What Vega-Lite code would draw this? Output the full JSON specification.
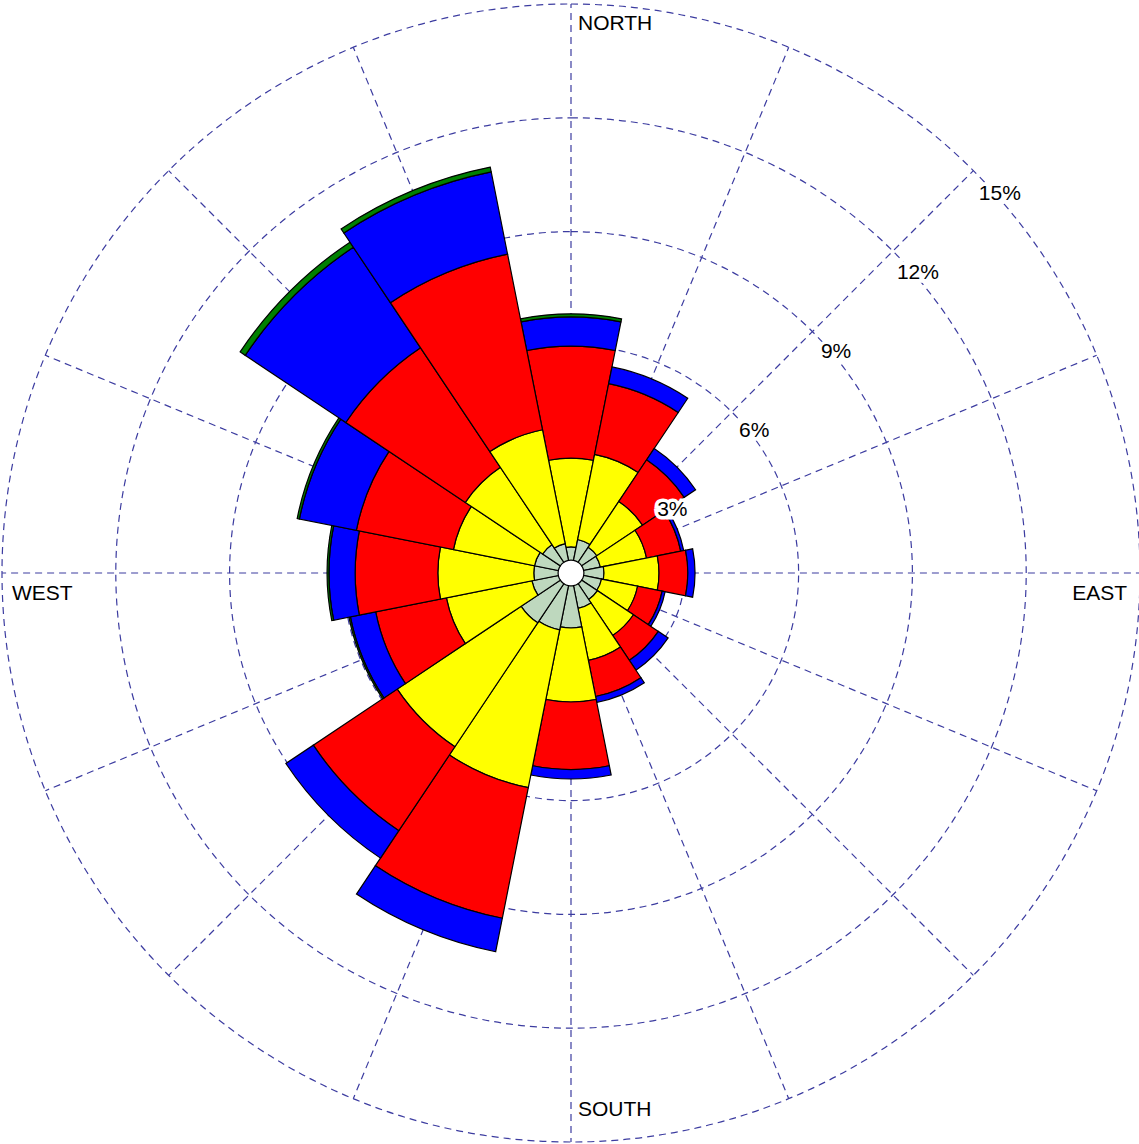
{
  "$schema": "https://vega.github.io/schema/vega-lite/v6.json",
  "width": 1136,
  "height": 1142,
  "padding": {"left": 3, "top": 2, "right": 0, "bottom": 0},
  "autosize": {"type": "none"},
  "background": "white",
  "config": {"view": {"stroke": null}},
  "layer": [
    {
      "data": {"values": [{"p": 3}, {"p": 6}, {"p": 9}, {"p": 12}, {"p": 15}]},
      "mark": {"type": "arc", "theta": 0, "theta2": 6.2832, "filled": false, "stroke": "#3c3ca0", "strokeWidth": 1.2, "strokeDash": [7, 5]},
      "encoding": {
        "radius": {"field": "p", "type": "quantitative", "stack": null, "scale": {"type": "linear", "domain": [0, 15], "range": [0, 569], "nice": false, "zero": true}}
      }
    },
    {
      "data": {"values": [{"a": 0}, {"a": 22.5}, {"a": 45}, {"a": 67.5}, {"a": 90}, {"a": 112.5}, {"a": 135}, {"a": 157.5}, {"a": 180}, {"a": 202.5}, {"a": 225}, {"a": 247.5}, {"a": 270}, {"a": 292.5}, {"a": 315}, {"a": 337.5}]},
      "transform": [
        {"calculate": "0.34*sin(datum.a*PI/180)", "as": "xs"},
        {"calculate": "0.34*cos(datum.a*PI/180)", "as": "ys"},
        {"calculate": "15*sin(datum.a*PI/180)", "as": "xe"},
        {"calculate": "15*cos(datum.a*PI/180)", "as": "ye"}
      ],
      "mark": {"type": "rule", "stroke": "#3c3ca0", "strokeWidth": 1.2, "strokeDash": [7, 5]},
      "encoding": {
        "x": {"field": "xs", "type": "quantitative", "scale": {"domain": [-14.974, 14.974], "nice": false, "zero": false}, "axis": null},
        "y": {"field": "ys", "type": "quantitative", "scale": {"domain": [-15.053, 15.053], "nice": false, "zero": false}, "axis": null},
        "x2": {"field": "xe"},
        "y2": {"field": "ye"}
      }
    },
    {
      "data": {"values": [
        {"dir": 0, "cls": "a", "lo": 0.34, "hi": 0.69}, {"dir": 0, "cls": "b", "lo": 0.69, "hi": 3.03}, {"dir": 0, "cls": "c", "lo": 3.03, "hi": 5.98}, {"dir": 0, "cls": "d", "lo": 5.98, "hi": 6.75}, {"dir": 0, "cls": "e", "lo": 6.75, "hi": 6.83},
        {"dir": 22.5, "cls": "a", "lo": 0.34, "hi": 0.90}, {"dir": 22.5, "cls": "b", "lo": 0.90, "hi": 3.19}, {"dir": 22.5, "cls": "c", "lo": 3.19, "hi": 5.09}, {"dir": 22.5, "cls": "d", "lo": 5.09, "hi": 5.54},
        {"dir": 45, "cls": "a", "lo": 0.34, "hi": 0.82}, {"dir": 45, "cls": "b", "lo": 0.82, "hi": 2.27}, {"dir": 45, "cls": "c", "lo": 2.27, "hi": 3.59}, {"dir": 45, "cls": "d", "lo": 3.59, "hi": 3.95},
        {"dir": 67.5, "cls": "a", "lo": 0.34, "hi": 0.79}, {"dir": 67.5, "cls": "b", "lo": 0.79, "hi": 2.03}, {"dir": 67.5, "cls": "c", "lo": 2.03, "hi": 2.95}, {"dir": 67.5, "cls": "d", "lo": 2.95, "hi": 3.03},
        {"dir": 90, "cls": "a", "lo": 0.34, "hi": 0.87}, {"dir": 90, "cls": "b", "lo": 0.87, "hi": 2.32}, {"dir": 90, "cls": "c", "lo": 2.32, "hi": 3.08}, {"dir": 90, "cls": "d", "lo": 3.08, "hi": 3.27},
        {"dir": 112.5, "cls": "a", "lo": 0.34, "hi": 0.82}, {"dir": 112.5, "cls": "b", "lo": 0.82, "hi": 1.79}, {"dir": 112.5, "cls": "c", "lo": 1.79, "hi": 2.45}, {"dir": 112.5, "cls": "d", "lo": 2.45, "hi": 2.53},
        {"dir": 135, "cls": "a", "lo": 0.34, "hi": 0.84}, {"dir": 135, "cls": "b", "lo": 0.84, "hi": 1.98}, {"dir": 135, "cls": "c", "lo": 1.98, "hi": 2.77}, {"dir": 135, "cls": "d", "lo": 2.77, "hi": 3.08},
        {"dir": 157.5, "cls": "a", "lo": 0.34, "hi": 0.95}, {"dir": 157.5, "cls": "b", "lo": 0.95, "hi": 2.35}, {"dir": 157.5, "cls": "c", "lo": 2.35, "hi": 3.32}, {"dir": 157.5, "cls": "d", "lo": 3.32, "hi": 3.48},
        {"dir": 180, "cls": "a", "lo": 0.34, "hi": 1.45}, {"dir": 180, "cls": "b", "lo": 1.45, "hi": 3.40}, {"dir": 180, "cls": "c", "lo": 3.40, "hi": 5.18}, {"dir": 180, "cls": "d", "lo": 5.18, "hi": 5.43},
        {"dir": 202.5, "cls": "a", "lo": 0.34, "hi": 1.53}, {"dir": 202.5, "cls": "b", "lo": 1.53, "hi": 5.77}, {"dir": 202.5, "cls": "c", "lo": 5.77, "hi": 9.28}, {"dir": 202.5, "cls": "d", "lo": 9.28, "hi": 10.18},
        {"dir": 225, "cls": "a", "lo": 0.34, "hi": 1.58}, {"dir": 225, "cls": "b", "lo": 1.58, "hi": 5.51}, {"dir": 225, "cls": "c", "lo": 5.51, "hi": 8.17}, {"dir": 225, "cls": "d", "lo": 8.17, "hi": 9.04},
        {"dir": 247.5, "cls": "a", "lo": 0.34, "hi": 1.05}, {"dir": 247.5, "cls": "b", "lo": 1.05, "hi": 3.35}, {"dir": 247.5, "cls": "c", "lo": 3.35, "hi": 5.25}, {"dir": 247.5, "cls": "d", "lo": 5.25, "hi": 5.93}, {"dir": 247.5, "cls": "e", "lo": 5.93, "hi": 5.97},
        {"dir": 270, "cls": "a", "lo": 0.34, "hi": 0.98}, {"dir": 270, "cls": "b", "lo": 0.98, "hi": 3.51}, {"dir": 270, "cls": "c", "lo": 3.51, "hi": 5.69}, {"dir": 270, "cls": "d", "lo": 5.69, "hi": 6.38}, {"dir": 270, "cls": "e", "lo": 6.38, "hi": 6.43},
        {"dir": 292.5, "cls": "a", "lo": 0.34, "hi": 0.98}, {"dir": 292.5, "cls": "b", "lo": 0.98, "hi": 3.16}, {"dir": 292.5, "cls": "c", "lo": 3.16, "hi": 5.77}, {"dir": 292.5, "cls": "d", "lo": 5.77, "hi": 7.30}, {"dir": 292.5, "cls": "e", "lo": 7.30, "hi": 7.36},
        {"dir": 315, "cls": "a", "lo": 0.34, "hi": 0.90}, {"dir": 315, "cls": "b", "lo": 0.90, "hi": 3.35}, {"dir": 315, "cls": "c", "lo": 3.35, "hi": 7.14}, {"dir": 315, "cls": "d", "lo": 7.14, "hi": 10.33}, {"dir": 315, "cls": "e", "lo": 10.33, "hi": 10.49},
        {"dir": 337.5, "cls": "a", "lo": 0.34, "hi": 0.79}, {"dir": 337.5, "cls": "b", "lo": 0.79, "hi": 3.85}, {"dir": 337.5, "cls": "c", "lo": 3.85, "hi": 8.57}, {"dir": 337.5, "cls": "d", "lo": 8.57, "hi": 10.78}, {"dir": 337.5, "cls": "e", "lo": 10.78, "hi": 10.91}
      ]},
      "transform": [
        {"calculate": "datum.dir - 11.25", "as": "a0"},
        {"calculate": "datum.dir + 11.25", "as": "a1"}
      ],
      "mark": {"type": "arc", "stroke": "black", "strokeWidth": 1.2},
      "encoding": {
        "theta": {"field": "a0", "type": "quantitative", "stack": null, "scale": {"type": "linear", "domain": [0, 360], "range": [0, 6.283185307179586], "nice": false, "zero": false}},
        "theta2": {"field": "a1"},
        "radius": {"field": "hi", "type": "quantitative", "stack": null, "scale": {"type": "linear", "domain": [0, 15], "range": [0, 569], "nice": false, "zero": true}},
        "radius2": {"field": "lo"},
        "color": {"field": "cls", "type": "nominal", "legend": null, "scale": {"domain": ["a", "b", "c", "d", "e"], "range": ["#bed8be", "#ffff00", "#ff0000", "#0000ff", "#008000"]}}
      }
    },
    {
      "data": {"values": [{"label": "3%", "p": 3}, {"label": "6%", "p": 6}, {"label": "9%", "p": 9}, {"label": "12%", "p": 12}, {"label": "15%", "p": 15}]},
      "mark": {"type": "text", "theta": 0.8029, "font": "Liberation Sans", "fontSize": 21, "align": "center", "baseline": "middle", "dx": 19.5, "dy": 16.5, "fill": "white", "stroke": "white", "strokeWidth": 7, "strokeJoin": "miter"},
      "encoding": {
        "text": {"field": "label"},
        "radius": {"field": "p", "type": "quantitative", "stack": null, "scale": {"type": "linear", "domain": [0, 15], "range": [0, 569], "nice": false, "zero": true}}
      }
    },
    {
      "data": {"values": [{"label": "3%", "p": 3}, {"label": "6%", "p": 6}, {"label": "9%", "p": 9}, {"label": "12%", "p": 12}, {"label": "15%", "p": 15}]},
      "mark": {"type": "text", "theta": 0.8029, "font": "Liberation Sans", "fontSize": 21, "align": "center", "baseline": "middle", "dx": 19.5, "dy": 16.5, "fill": "black"},
      "encoding": {
        "text": {"field": "label"},
        "radius": {"field": "p", "type": "quantitative", "stack": null, "scale": {"type": "linear", "domain": [0, 15], "range": [0, 569], "nice": false, "zero": true}}
      }
    },
    {
      "data": {"values": [{"label": "NORTH", "dir": 0, "p": 15}]},
      "mark": {"type": "text", "font": "Liberation Sans", "fontSize": 21, "align": "left", "baseline": "middle", "dx": 7, "dy": 20, "fill": "black"},
      "encoding": {
        "text": {"field": "label"},
        "theta": {"field": "dir", "type": "quantitative", "stack": null, "scale": {"type": "linear", "domain": [0, 360], "range": [0, 6.283185307179586], "nice": false, "zero": false}},
        "radius": {"field": "p", "type": "quantitative", "stack": null, "scale": {"type": "linear", "domain": [0, 15], "range": [0, 569], "nice": false, "zero": true}}
      }
    },
    {
      "data": {"values": [{"label": "SOUTH", "dir": 180, "p": 15}]},
      "mark": {"type": "text", "font": "Liberation Sans", "fontSize": 21, "align": "left", "baseline": "middle", "dx": 7, "dy": -32, "fill": "black"},
      "encoding": {
        "text": {"field": "label"},
        "theta": {"field": "dir", "type": "quantitative", "stack": null, "scale": {"type": "linear", "domain": [0, 360], "range": [0, 6.283185307179586], "nice": false, "zero": false}},
        "radius": {"field": "p", "type": "quantitative", "stack": null, "scale": {"type": "linear", "domain": [0, 15], "range": [0, 569], "nice": false, "zero": true}}
      }
    },
    {
      "data": {"values": [{"label": "WEST", "dir": 270, "p": 15}]},
      "mark": {"type": "text", "font": "Liberation Sans", "fontSize": 21, "align": "left", "baseline": "middle", "dx": 10, "dy": 21, "fill": "black"},
      "encoding": {
        "text": {"field": "label"},
        "theta": {"field": "dir", "type": "quantitative", "stack": null, "scale": {"type": "linear", "domain": [0, 360], "range": [0, 6.283185307179586], "nice": false, "zero": false}},
        "radius": {"field": "p", "type": "quantitative", "stack": null, "scale": {"type": "linear", "domain": [0, 15], "range": [0, 569], "nice": false, "zero": true}}
      }
    },
    {
      "data": {"values": [{"label": "EAST", "dir": 90, "p": 15}]},
      "mark": {"type": "text", "font": "Liberation Sans", "fontSize": 21, "align": "right", "baseline": "middle", "dx": -13, "dy": 21, "fill": "black"},
      "encoding": {
        "text": {"field": "label"},
        "theta": {"field": "dir", "type": "quantitative", "stack": null, "scale": {"type": "linear", "domain": [0, 360], "range": [0, 6.283185307179586], "nice": false, "zero": false}},
        "radius": {"field": "p", "type": "quantitative", "stack": null, "scale": {"type": "linear", "domain": [0, 15], "range": [0, 569], "nice": false, "zero": true}}
      }
    }
  ]
}
